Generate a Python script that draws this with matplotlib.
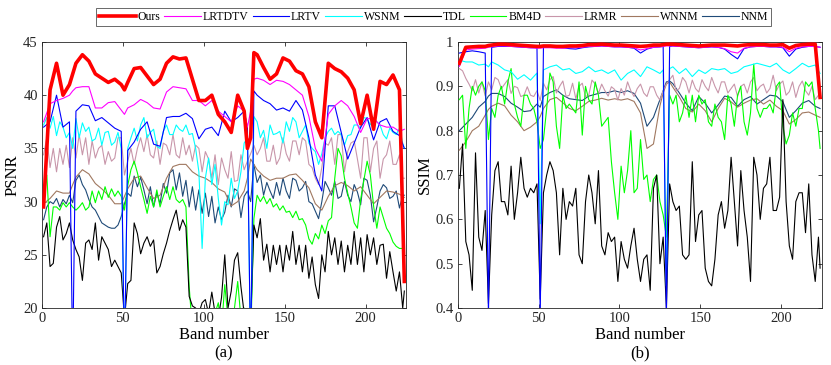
import matplotlib
matplotlib.use("Agg")
import matplotlib.pyplot as plt

bands = [1, 5, 9, 13, 17, 19, 21, 25, 29, 33,
         37, 41, 45, 49, 51, 53, 57, 61, 65, 69,
         73, 77, 81, 85, 89, 93, 97, 101, 105, 109,
         113, 117, 121, 125, 127, 129, 131, 133, 137, 141,
         145, 149, 153, 157, 161, 165, 169, 173, 177, 181,
         185, 189, 193, 197, 201, 205, 209, 213, 217, 221,
         224]
# noisier curves were read every 2 bands
bands_fine = list(range(1, 224, 2)) + [224]

methods = ["Ours", "LRTDTV", "LRTV", "WSNM", "TDL", "BM4D", "LRMR", "WNNM", "NNM"]

# ---- PSNR ----
psnr_ours = [29.5, 40.5, 43.0, 40.0, 41.0, 42.0, 43.0, 43.8, 43.2, 42.0,
             41.6, 41.2, 41.5, 41.0, 40.5, 41.2, 42.5, 42.6, 41.8, 41.0,
             41.5, 43.0, 43.6, 43.4, 43.5, 41.5, 39.5, 39.5, 40.0, 38.2,
             37.5, 36.5, 40.0, 38.5, 35.0, 36.0, 44.0, 43.8, 42.6, 41.5,
             42.0, 43.5, 43.2, 42.3, 42.0, 40.8, 37.5, 36.0, 43.0, 42.5,
             42.2, 41.6, 40.5, 37.3, 40.0, 36.8, 41.3, 41.0, 41.9, 40.5,
             22.5]
psnr_lrtdtv = [37.5, 39.2, 39.5, 39.7, 40.0, 40.4, 40.7, 40.8, 40.8, 38.8,
               38.8, 39.3, 39.4, 38.6, 38.2, 38.8, 39.1, 39.6, 39.3, 38.8,
               38.7, 40.3, 40.8, 40.7, 40.6, 39.5, 39.5, 39.0, 39.5, 38.5,
               38.0, 37.5, 39.0, 38.5, 37.0, 38.5, 41.5, 41.6, 41.4, 41.0,
               41.4, 41.3, 41.0, 40.5, 40.0, 38.0, 35.0, 33.8, 38.2, 39.0,
               39.5, 39.0, 38.0, 36.5, 37.8, 37.8, 37.2, 37.0, 37.0, 36.6,
               36.8]
psnr_lrtv = [37.0, 37.5, 40.0, 37.0, 37.5, 15.0, 38.5, 39.1, 39.0, 37.6,
             37.9, 37.4, 36.9, 36.6, 15.0, 34.8, 35.6, 36.8, 37.5, 35.4,
             35.2, 37.9, 38.0, 38.0, 38.3, 37.8, 35.9, 36.8, 37.0, 36.2,
             38.5, 37.5, 37.9, 38.5, 37.0, 15.0, 40.4, 40.0, 39.5, 39.2,
             38.6, 38.8, 38.5, 39.5, 38.6, 36.0, 32.5, 31.0, 39.0, 39.0,
             36.5, 34.0, 35.5, 37.0, 37.9, 35.8, 37.5, 37.8, 36.6, 36.2,
             35.0]
psnr_wsnm = [37.2, 37.9, 36.9, 38.0, 36.2, 37.5, 37.0, 36.0, 36.5, 35.0,
             37.8, 36.0, 37.4, 36.6, 37.0, 35.7, 35.9, 36.9, 35.3, 36.5,
             36.6, 35.3, 35.6, 36.5, 35.0, 15.0, 35.0, 36.0, 36.9, 35.7,
             37.2, 37.9, 36.0, 36.5, 36.8, 35.2, 35.0, 36.6, 37.2, 36.3,
             36.3, 37.2, 36.8, 36.6, 37.2, 36.3, 36.4, 35.0, 32.8, 25.6,
             32.2, 34.1, 31.6, 33.5, 30.3, 27.8, 30.0, 29.7, 32.2, 30.3,
             31.0, 32.8, 35.5, 36.0, 15.0, 38.0, 37.5, 36.0, 36.7, 35.0,
             37.2, 36.3, 36.4, 36.6, 35.5, 37.5, 36.6, 37.9, 37.5, 36.0,
             36.6, 37.2, 35.5, 35.0, 34.7, 33.5, 34.5, 36.0, 36.6, 36.9,
             36.3, 36.6, 36.3, 35.3, 36.2, 36.3, 37.2, 37.2, 36.9, 37.9,
             37.8, 37.2, 37.9, 37.5, 37.2, 36.3, 35.9, 36.9, 36.5, 36.3,
             36.9, 35.5, 35.0]
psnr_tdl = [26.7, 28.0, 23.9, 24.2, 27.6, 28.6, 26.4, 27.0, 28.0, 26.4,
            25.5, 24.8, 22.6, 26.1, 26.4, 25.5, 28.0, 24.5, 26.7, 26.1,
            25.5, 23.9, 24.5, 23.9, 23.3, 19.0, 22.3, 22.6, 28.0, 27.0,
            25.1, 26.1, 26.7, 25.8, 26.4, 23.3, 23.9, 25.1, 26.1, 27.3,
            28.3, 29.2, 27.3, 28.3, 27.6, 21.1, 20.2, 20.0, 19.5, 20.5,
            20.8, 19.5, 21.5, 19.5, 19.0, 21.0, 25.0, 20.0, 21.6, 24.5,
            25.2, 22.0, 19.5, 19.0, 18.5, 27.8, 26.6, 28.4, 24.5, 26.0,
            23.4, 25.9, 24.1, 25.9, 23.4, 25.9, 24.5, 27.2, 24.1, 25.9,
            23.4, 25.9, 22.8, 24.8, 22.2, 20.9, 25.0, 23.4, 27.2, 25.0,
            26.6, 24.1, 26.3, 23.4, 25.9, 24.1, 27.2, 24.1, 26.6, 23.4,
            26.9, 25.0, 26.6, 24.1, 25.9, 26.0, 22.8, 25.3, 23.4, 21.6,
            23.4, 20.0, 21.6]
psnr_bm4d = [30.0, 32.5, 26.7, 29.5, 29.5, 29.2, 29.9, 29.5, 29.9, 29.5,
             29.2, 29.5, 29.9, 29.2, 29.5, 31.0, 29.9, 31.0, 30.2, 31.4,
             30.4, 31.2, 30.5, 31.0, 30.5, 29.2, 31.5, 33.0, 33.8, 32.7,
             31.4, 30.2, 28.9, 30.5, 29.5, 31.1, 29.5, 30.5, 31.4, 30.2,
             31.4, 30.2, 29.9, 30.2, 29.5, 22.0, 18.0, 17.5, 17.0, 19.0,
             18.0, 17.5, 18.0, 19.5, 20.5, 18.0, 22.2, 19.0, 18.5, 20.0,
             22.5, 19.0, 20.0, 18.0, 17.0, 28.4, 30.6, 30.0, 30.5, 29.8,
             30.3, 29.5, 29.8, 29.2, 29.6, 29.0, 29.1, 28.5, 29.1, 28.3,
             28.4, 27.8, 26.5, 26.0, 27.0, 26.5, 27.8, 27.0, 28.2, 28.5,
             32.2, 35.0, 34.3, 32.2, 30.8, 29.5, 28.0, 27.5, 30.2, 32.0,
             33.8, 32.5, 29.6, 27.5, 29.5, 28.5, 27.5, 27.0, 26.2, 25.8,
             25.6, 25.6, 25.6]
psnr_lrmr = [34.4, 36.0, 33.2, 35.0, 32.8, 35.0, 33.5, 35.3, 33.2, 36.0,
             34.1, 36.3, 34.4, 36.0, 33.5, 35.7, 34.1, 35.0, 35.3, 33.5,
             34.7, 33.8, 34.1, 36.0, 36.0, 32.5, 33.8, 35.0, 33.5, 35.0,
             36.0, 34.7, 36.3, 34.4, 34.1, 35.7, 33.5, 35.5, 35.3, 34.4,
             36.3, 34.4, 34.1, 36.0, 34.4, 35.3, 33.8, 35.3, 35.0, 32.8,
             34.7, 34.0, 32.2, 34.4, 31.6, 34.1, 33.0, 32.2, 34.7, 31.9,
             32.0, 34.4, 33.0, 33.8, 34.5, 35.3, 34.4, 35.0, 36.0, 33.8,
             33.8, 35.3, 33.5, 34.1, 36.0, 34.5, 33.8, 35.7, 35.7, 34.4,
             36.0, 35.7, 33.5, 33.2, 32.2, 31.6, 33.2, 35.5, 35.3, 36.0,
             33.5, 36.3, 36.3, 32.8, 34.7, 35.5, 35.7, 34.0, 32.2, 36.0,
             36.0, 32.8, 35.0, 35.7, 32.2, 34.0, 34.4, 35.7, 33.5, 33.5,
             34.4, 32.2, 32.2]
psnr_wnnm = [29.8, 30.3, 31.0, 30.8, 30.8, 31.6, 32.3, 33.0, 32.6, 31.7,
             31.2, 30.6, 29.8, 29.8, 30.5, 31.2, 32.2, 32.4, 31.3, 30.3,
             30.6, 32.2, 33.3, 33.5, 33.5, 32.8, 32.4, 32.2, 31.8, 31.2,
             30.9, 29.6, 30.0, 31.0, 32.2, 34.0, 33.5, 33.0, 32.4, 32.0,
             32.2, 32.2, 32.5, 32.6, 32.0, 31.3, 29.8, 29.2, 30.5, 31.5,
             31.8, 31.5, 31.0, 31.4, 30.6, 29.8, 30.4, 31.0, 30.9, 30.7,
             30.4]
psnr_nnm = [28.3, 29.5, 30.0, 29.8, 30.3, 29.5, 30.2, 29.8, 30.6, 29.9,
            32.0, 32.5, 31.6, 31.1, 30.2, 29.5, 29.2, 28.6, 28.0, 27.8,
            27.6, 27.5, 27.5, 27.8, 28.6, 29.8, 30.8, 30.5, 32.4, 31.4,
            32.3, 31.1, 29.8, 31.4, 29.5, 30.8, 29.8, 31.7, 30.8, 32.7,
            33.0, 31.1, 32.7, 30.5, 32.0, 29.5, 31.4, 29.2, 31.1, 28.9,
            30.8, 28.6, 30.5, 28.0, 29.5, 28.3, 29.0, 30.6, 29.5, 31.2,
            31.0, 28.5, 30.5, 31.0, 30.0, 33.5, 31.8, 32.5, 30.6, 31.8,
            31.0, 30.3, 31.8, 30.6, 32.2, 31.0, 30.3, 32.2, 32.0, 31.0,
            31.3, 31.9, 30.0, 29.8, 29.1, 28.4, 30.0, 31.9, 31.3, 30.6,
            31.9, 30.3, 30.5, 31.9, 30.6, 30.0, 31.6, 30.9, 29.7, 32.2,
            32.0, 30.6, 28.1, 29.5, 31.0, 31.6, 31.3, 30.3, 30.5, 31.0,
            29.4, 30.6, 30.6]

# ---- SSIM ----
ssim_ours = [0.952, 0.988, 0.989, 0.990, 0.990, 0.992, 0.993, 0.995, 0.995, 0.994,
             0.993, 0.992, 0.991, 0.990, 0.990, 0.991, 0.991, 0.990, 0.990, 0.991,
             0.991, 0.992, 0.994, 0.994, 0.995, 0.994, 0.993, 0.993, 0.992, 0.991,
             0.990, 0.991, 0.993, 0.993, 0.994, 0.995, 0.995, 0.995, 0.994, 0.993,
             0.992, 0.991, 0.992, 0.993, 0.993, 0.993, 0.992, 0.991, 0.993, 0.994,
             0.994, 0.994, 0.993, 0.993, 0.994, 0.986, 0.992, 0.994, 0.995, 0.995,
             0.875]
ssim_lrtdtv = [0.945, 0.982, 0.984, 0.985, 0.986, 0.988, 0.989, 0.991, 0.991, 0.990,
               0.989, 0.988, 0.987, 0.986, 0.986, 0.987, 0.987, 0.986, 0.986, 0.987,
               0.987, 0.988, 0.990, 0.990, 0.991, 0.990, 0.989, 0.989, 0.988, 0.987,
               0.982, 0.985, 0.988, 0.989, 0.990, 0.991, 0.991, 0.991, 0.990, 0.989,
               0.988, 0.987, 0.988, 0.989, 0.988, 0.985, 0.978, 0.975, 0.986, 0.989,
               0.990, 0.990, 0.989, 0.989, 0.988, 0.978, 0.986, 0.989, 0.990, 0.990,
               0.988]
ssim_lrtv = [0.975, 0.978, 0.980, 0.978, 0.975, 0.38, 0.988, 0.990, 0.990, 0.990,
             0.989, 0.988, 0.987, 0.987, 0.38, 0.988, 0.989, 0.988, 0.987, 0.985,
             0.984, 0.987, 0.989, 0.990, 0.991, 0.990, 0.989, 0.989, 0.988, 0.986,
             0.975, 0.984, 0.988, 0.989, 0.990, 0.38, 0.990, 0.991, 0.990, 0.989,
             0.988, 0.987, 0.988, 0.989, 0.988, 0.984, 0.972, 0.962, 0.985, 0.989,
             0.990, 0.990, 0.989, 0.989, 0.987, 0.968, 0.984, 0.988, 0.990, 0.990,
             0.988]
ssim_wsnm = [0.959, 0.955, 0.955, 0.948, 0.950, 0.944, 0.955, 0.948, 0.937, 0.933,
             0.916, 0.926, 0.914, 0.930, 0.590, 0.937, 0.944, 0.948, 0.937, 0.940,
             0.929, 0.933, 0.944, 0.933, 0.937, 0.929, 0.937, 0.914, 0.929, 0.937,
             0.922, 0.944, 0.937, 0.929, 0.937, 0.450, 0.940, 0.944, 0.929, 0.940,
             0.922, 0.937, 0.929, 0.940, 0.937, 0.940, 0.929, 0.933, 0.944, 0.948,
             0.952, 0.948, 0.944, 0.952, 0.937, 0.929, 0.940, 0.952, 0.944, 0.948,
             0.929]
ssim_tdl = [0.67, 0.77, 0.55, 0.52, 0.44, 0.75, 0.56, 0.53, 0.62, 0.41,
            0.61, 0.71, 0.73, 0.64, 0.64, 0.61, 0.72, 0.60, 0.66, 0.74,
            0.67, 0.65, 0.67, 0.66, 0.68, 0.42, 0.66, 0.70, 0.73, 0.71,
            0.66, 0.52, 0.67, 0.60, 0.64, 0.63, 0.67, 0.52, 0.50, 0.64,
            0.70, 0.66, 0.59, 0.71, 0.54, 0.52, 0.57, 0.55, 0.56, 0.46,
            0.55, 0.51, 0.49, 0.54, 0.58, 0.51, 0.46, 0.51, 0.52, 0.44,
            0.67, 0.70, 0.50, 0.56, 0.40, 0.68, 0.64, 0.62, 0.63, 0.52,
            0.51, 0.52, 0.73, 0.55, 0.61, 0.62, 0.49, 0.46, 0.45, 0.51,
            0.61, 0.64, 0.58, 0.62, 0.74, 0.64, 0.54, 0.71, 0.62, 0.56,
            0.46, 0.74, 0.70, 0.60, 0.67, 0.68, 0.74, 0.62, 0.62, 0.65,
            0.87, 0.64, 0.54, 0.51, 0.64, 0.66, 0.66, 0.57, 0.68, 0.52,
            0.46, 0.56, 0.49]
ssim_bm4d = [0.87, 0.88, 0.76, 0.85, 0.90, 0.88, 0.90, 0.91, 0.89, 0.78,
             0.85, 0.83, 0.88, 0.90, 0.86, 0.91, 0.94, 0.86, 0.83, 0.81,
             0.88, 0.88, 0.86, 0.85, 0.82, 0.76, 0.78, 0.85, 0.93, 0.91,
             0.81, 0.76, 0.88, 0.85, 0.86, 0.85, 0.84, 0.91, 0.79, 0.90,
             0.87, 0.86, 0.91, 0.88, 0.81, 0.82, 0.83, 0.73, 0.66, 0.60,
             0.72, 0.66, 0.71, 0.80, 0.66, 0.67, 0.78, 0.69, 0.70, 0.64,
             0.69, 0.70, 0.64, 0.61, 0.56, 0.88, 0.86, 0.88, 0.82, 0.84,
             0.88, 0.83, 0.88, 0.82, 0.88, 0.86, 0.87, 0.82, 0.81, 0.86,
             0.83, 0.82, 0.78, 0.88, 0.86, 0.81, 0.88, 0.90, 0.82, 0.79,
             0.84, 0.95, 0.85, 0.83, 0.85, 0.85, 0.86, 0.84, 0.90, 0.91,
             0.81, 0.77, 0.79, 0.84, 0.81, 0.85, 0.85, 0.91, 0.90, 0.91,
             0.85, 0.80, 0.76]
ssim_lrmr = [0.940, 0.935, 0.918, 0.905, 0.890, 0.915, 0.885, 0.910, 0.878, 0.910,
             0.892, 0.920, 0.915, 0.895, 0.905, 0.915, 0.884, 0.900, 0.897, 0.877,
             0.880, 0.899, 0.880, 0.877, 0.890, 0.868, 0.907, 0.892, 0.915, 0.922,
             0.885, 0.900, 0.912, 0.877, 0.880, 0.907, 0.872, 0.900, 0.907, 0.877,
             0.880, 0.914, 0.905, 0.884, 0.905, 0.890, 0.878, 0.899, 0.893, 0.869,
             0.895, 0.880, 0.910, 0.890, 0.877, 0.895, 0.905, 0.885, 0.877, 0.899,
             0.899, 0.880, 0.869, 0.890, 0.905, 0.915, 0.925, 0.890, 0.895, 0.920,
             0.910, 0.885, 0.914, 0.895, 0.887, 0.915, 0.900, 0.890, 0.920, 0.900,
             0.885, 0.910, 0.910, 0.885, 0.895, 0.905, 0.877, 0.900, 0.905, 0.885,
             0.910, 0.920, 0.890, 0.900, 0.905, 0.885, 0.895, 0.925, 0.890, 0.905,
             0.912, 0.880, 0.888, 0.910, 0.875, 0.900, 0.912, 0.890, 0.880, 0.900,
             0.870, 0.880, 0.877]
ssim_wnnm = [0.756, 0.775, 0.800, 0.810, 0.835, 0.848, 0.855, 0.862, 0.856, 0.835,
             0.820, 0.800, 0.808, 0.820, 0.832, 0.850, 0.870, 0.875, 0.863, 0.850,
             0.845, 0.855, 0.866, 0.869, 0.873, 0.869, 0.872, 0.869, 0.872, 0.866,
             0.840, 0.760, 0.770, 0.856, 0.885, 0.905, 0.910, 0.898, 0.876, 0.850,
             0.842, 0.860, 0.845, 0.820, 0.850, 0.873, 0.865, 0.853, 0.862, 0.869,
             0.872, 0.860, 0.869, 0.855, 0.845, 0.815, 0.825, 0.840, 0.842, 0.835,
             0.830]
ssim_nnm = [0.800, 0.815, 0.830, 0.853, 0.866, 0.878, 0.884, 0.884, 0.877, 0.862,
            0.853, 0.843, 0.845, 0.860, 0.853, 0.877, 0.886, 0.892, 0.880, 0.872,
            0.870, 0.868, 0.878, 0.882, 0.886, 0.886, 0.890, 0.886, 0.890, 0.884,
            0.862, 0.810, 0.830, 0.870, 0.890, 0.910, 0.912, 0.906, 0.885, 0.862,
            0.845, 0.877, 0.862, 0.840, 0.858, 0.878, 0.875, 0.855, 0.870, 0.877,
            0.860, 0.870, 0.880, 0.878, 0.865, 0.830, 0.845, 0.862, 0.868, 0.855,
            0.850]

colors = ["#ff0000", "#ff00ff", "#0000ff", "#00ffff", "#000000",
          "#00ff00", "#c896aa", "#a07860", "#1f4a78"]
widths = [2.6, 0.8, 0.8, 0.8, 0.8, 0.8, 0.8, 0.8, 0.8]

psnr_all = [psnr_ours, psnr_lrtdtv, psnr_lrtv, psnr_wsnm, psnr_tdl,
            psnr_bm4d, psnr_lrmr, psnr_wnnm, psnr_nnm]
psnr_x = [bands, bands, bands, bands_fine, bands_fine,
          bands_fine, bands_fine, bands, bands_fine]
ssim_all = [ssim_ours, ssim_lrtdtv, ssim_lrtv, ssim_wsnm, ssim_tdl,
            ssim_bm4d, ssim_lrmr, ssim_wnnm, ssim_nnm]
ssim_x = [bands, bands, bands, bands, bands_fine,
          bands_fine, bands_fine, bands, bands]

plt.rcParams["font.family"] = ["Liberation Serif", "DejaVu Serif"]
plt.rcParams["font.size"] = 10.5

fig = plt.figure(figsize=(8.31, 3.65), dpi=100)
ax1 = fig.add_axes([0.0505, 0.156, 0.438, 0.729])
ax2 = fig.add_axes([0.5508, 0.156, 0.438, 0.729])


def draw_panel(ax, xs, series, ylim, yticks, yticklabels, ylabel, tag):
    # reverse order so "Ours" ends up on top
    for i in reversed(range(len(methods))):
        ax.plot(xs[i], series[i], color=colors[i], lw=widths[i],
                label=methods[i], zorder=2 + (len(methods) - i))
    ax.set_xlim(0, 225)
    ax.set_ylim(*ylim)
    ax.set_xticks([0, 50, 100, 150, 200])
    ax.set_yticks(yticks)
    ax.set_yticklabels(yticklabels)
    ax.tick_params(direction="in", top=True, right=True, length=3,
                   width=0.6, colors="#262626", labelsize=10.5, pad=3)
    for sp in ax.spines.values():
        sp.set_linewidth(0.6)
        sp.set_color("#262626")
    ax.set_ylabel(ylabel, fontsize=12, labelpad=2)
    ax.set_xlabel("Band number\n" + tag, fontsize=12, labelpad=1,
                  linespacing=1.25)


draw_panel(ax1, psnr_x, psnr_all, (20, 45), [20, 25, 30, 35, 40, 45],
           ["20", "25", "30", "35", "40", "45"], "PSNR", "(a)")
draw_panel(ax2, ssim_x, ssim_all, (0.4, 1.0),
           [0.4, 0.5, 0.6, 0.7, 0.8, 0.9, 1.0],
           ["0.4", "0.5", "0.6", "0.7", "0.8", "0.9", "1"], "SSIM", "(b)")

handles, labels = ax1.get_legend_handles_labels()
order = [labels.index(m) for m in methods]
leg = fig.legend([handles[k] for k in order], methods, loc="upper center",
                 bbox_to_anchor=(0.522, 0.985), ncol=9, fontsize=8.5,
                 frameon=True, fancybox=False, edgecolor="#262626",
                 handlelength=3.1, handletextpad=0.15, columnspacing=0.35,
                 borderpad=0.25, borderaxespad=0.2)
leg.get_frame().set_linewidth(0.6)

fig.savefig("out.png", dpi=100)
